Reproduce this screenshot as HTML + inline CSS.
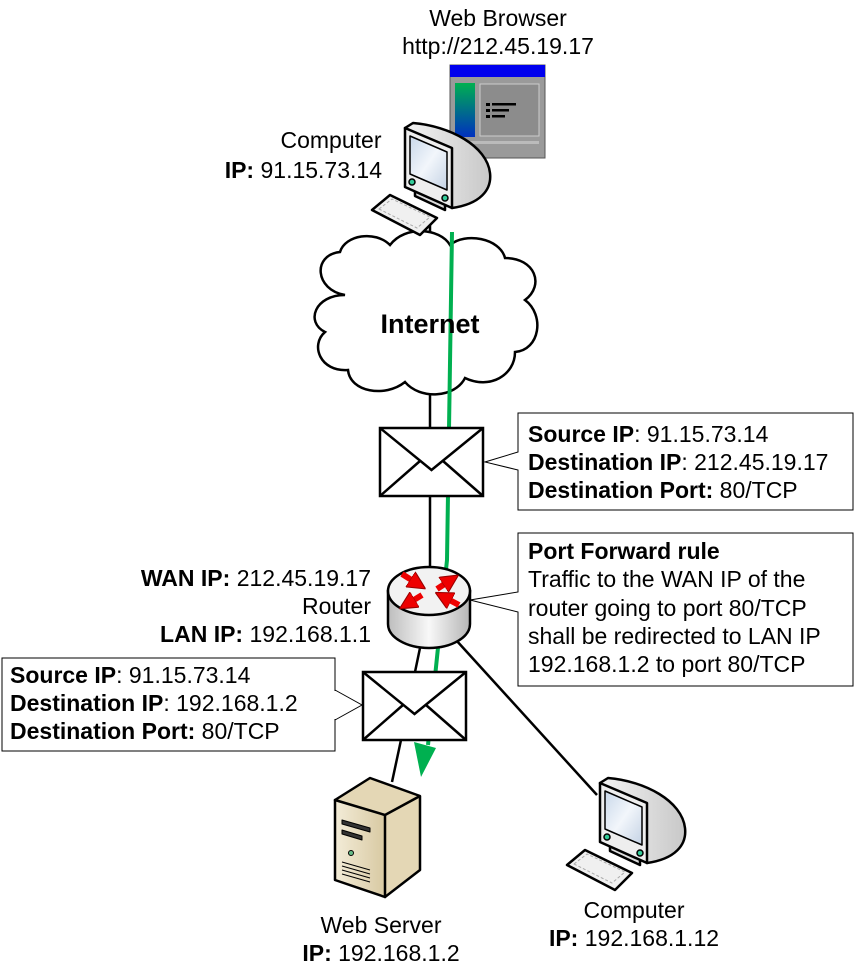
<!DOCTYPE html>
<html><head><meta charset="utf-8"><style>
body{margin:0;background:#fff}
svg{display:block}
text{font-family:"Liberation Sans",Arial,sans-serif;font-size:23px;fill:#000}
</style></head><body>
<svg width="855" height="970" viewBox="0 0 855 970" xmlns="http://www.w3.org/2000/svg">
<defs>
<linearGradient id="gs" x1="0" y1="0" x2="1" y2="1"><stop offset="0" stop-color="#c9d8ea"/><stop offset="0.5" stop-color="#f2f6fb"/><stop offset="1" stop-color="#c4d2e4"/></linearGradient>
<linearGradient id="gb" x1="0" y1="0" x2="1" y2="0"><stop offset="0" stop-color="#f4f4f4"/><stop offset="1" stop-color="#c8c8c8"/></linearGradient>
<linearGradient id="gg" x1="0" y1="0" x2="0" y2="1"><stop offset="0" stop-color="#00b050"/><stop offset="1" stop-color="#0030c0"/></linearGradient>
<linearGradient id="gr" x1="0" y1="0" x2="1" y2="0"><stop offset="0" stop-color="#bdbdbd"/><stop offset="0.5" stop-color="#f8f8f8"/><stop offset="1" stop-color="#b5b5b5"/></linearGradient>
<linearGradient id="gsv" x1="0" y1="0" x2="1" y2="0"><stop offset="0" stop-color="#f3ecd8"/><stop offset="1" stop-color="#d8c9a2"/></linearGradient>
<marker id="ah" viewBox="0 0 10 10" refX="7" refY="5" markerWidth="3" markerHeight="3" orient="auto"><path d="M0,0 L10,5 L0,10 Z" fill="#e00" stroke="#900" stroke-width="0.6"/></marker>
<g id="comp" stroke="#000" stroke-width="2.5" stroke-linejoin="round">
<path d="M0,0 L8,-5 C45,-2 82,18 85,45 C87,62 75,76 47,80 Z" fill="url(#gb)"/>
<path d="M10,60 L40,74 L40,82 L10,68 Z" fill="#ddd"/>
<path d="M0,0 L47,20 L47,80 L0,59 Z" fill="#eee"/>
<path d="M5,8 L42,24 L42,62 L5,46 Z" fill="url(#gs)" stroke-width="1.5"/>
<circle cx="7" cy="54" r="3" fill="#3c9" stroke-width="1.5"/>
<circle cx="40" cy="70" r="3" fill="#3c9" stroke-width="1.5"/>
<path d="M-33,82 L-15,67 L32,90 L15,107 Z" fill="#f0f0f0"/>
<path d="M-26,81 L-13,71 L25,89 L12,100 Z" fill="none" stroke="#aaa" stroke-width="1" stroke-dasharray="3,2"/>
</g>
<g id="env" stroke="#000" stroke-width="2.5" fill="#fff">
<rect x="0" y="0" width="103" height="68"/>
<polyline points="0,0 51.5,42 103,0" fill="none"/>
<line x1="0" y1="68" x2="40" y2="33"/>
<line x1="103" y1="68" x2="63" y2="33"/>
</g>
</defs>

<g stroke="#000" stroke-width="2.5" fill="none">
<line x1="430" y1="225" x2="430" y2="262"/>
<line x1="430" y1="390" x2="430" y2="430"/>
<line x1="430" y1="496" x2="430" y2="568"/>
<line x1="420" y1="648" x2="415" y2="672"/>
<line x1="401" y1="740" x2="392" y2="782"/>
<line x1="456" y1="640" x2="597" y2="795"/>
</g>

<path d="M345,295 C315,290 312,255 340,252 C345,235 375,230 390,245 C405,225 440,228 450,245 C465,232 500,238 505,258 C535,258 545,285 525,300 C545,315 540,350 515,352 C515,375 490,390 465,378 C455,398 420,400 405,382 C385,398 350,392 348,370 C320,372 310,345 325,332 C305,322 315,295 345,295 Z" fill="#fff" stroke="#000" stroke-width="2.5"/>

<polyline points="452,232 447,560 428,745" fill="none" stroke="#00b050" stroke-width="4"/>
<polygon points="414,742 436,748 421,777" fill="#00b050"/>

<text x="430" y="333" text-anchor="middle" style="font-weight:bold;font-size:27px">Internet</text>

<rect x="450" y="65" width="95" height="93" fill="#9a9a9a" stroke="#555" stroke-width="1"/>
<rect x="450" y="65" width="95" height="12" fill="#0000ee"/>
<rect x="455" y="83" width="20" height="54" fill="url(#gg)"/>
<rect x="480" y="84" width="59" height="52" fill="#8c8c8c" stroke="#ccc" stroke-width="1"/>
<rect x="455" y="141" width="84" height="3" fill="#bbb"/>
<g fill="#000"><rect x="486" y="103" width="4" height="3"/><rect x="486" y="109" width="4" height="3"/><rect x="486" y="115" width="4" height="3"/>
<rect x="492" y="103" width="24" height="2.5"/><rect x="492" y="109" width="17" height="2.5"/><rect x="492" y="115" width="13" height="2.5"/></g>

<use href="#comp" x="405" y="128"/>
<use href="#comp" x="600" y="783"/>

<use href="#env" x="380" y="428"/>
<use href="#env" x="363" y="672"/>

<g stroke="#000" stroke-width="2.5">
<path d="M388,591 L388,624 A41,24 0 0 0 470,624 L470,591 Z" fill="url(#gr)"/>
<ellipse cx="429" cy="591" rx="41" ry="24" fill="#f2f2f2"/>
</g>
<g stroke="#e00" stroke-width="6" fill="none" marker-end="url(#ah)">
<line x1="402" y1="574" x2="421" y2="586"/>
<line x1="437" y1="589" x2="454" y2="578"/>
<line x1="459" y1="605" x2="440" y2="595"/>
<line x1="422" y1="595" x2="404" y2="606"/>
</g>

<g stroke="#000" stroke-width="2.5" stroke-linejoin="round">
<path d="M335,800 L370,778 L420,796 L420,870 L385,897 Z" fill="#e4d7b5"/>
<path d="M335,800 L385,815 L385,897 L335,880 Z" fill="url(#gsv)"/>
<path d="M385,815 L420,796" fill="none"/>
<path d="M342,820 L370,828 L370,832 L342,824 Z" fill="#333" stroke-width="1"/>
<path d="M342,830 L362,836 L362,840 L342,834 Z" fill="#333" stroke-width="1"/>
<circle cx="351" cy="853" r="2.5" fill="#6b8" stroke-width="1"/>
<path d="M342,862 L370,870 M342,866 L370,874 M342,870 L370,878 M342,874 L370,882" stroke-width="1"/>
</g>

<g fill="#fff" stroke="#000" stroke-width="1">
<path d="M518,413 H853 V510 H518 V470 L485,462 L518,452 Z"/>
<path d="M518,533 H853 V686 H518 V612 L470,600 L518,592 Z"/>
<path d="M2,658 H335 V751 H2 Z"/>
</g>
<rect x="334" y="691" width="3" height="28" fill="#fff"/>
<polyline points="335,690 362,705 335,720" fill="none" stroke="#000" stroke-width="1"/>

<text x="498" y="26" text-anchor="middle">Web Browser</text>
<text x="498" y="54" text-anchor="middle">http://212.45.19.17</text>
<text x="331" y="148" text-anchor="middle">Computer</text>
<text x="382" y="178" text-anchor="end"><tspan font-weight="bold">IP:</tspan> 91.15.73.14</text>

<text x="528" y="442"><tspan font-weight="bold">Source IP</tspan>: 91.15.73.14</text>
<text x="528" y="470"><tspan font-weight="bold">Destination IP</tspan>: 212.45.19.17</text>
<text x="528" y="498"><tspan font-weight="bold">Destination Port:</tspan> 80/TCP</text>

<text x="528" y="559" font-weight="bold">Port Forward rule</text>
<text x="528" y="587">Traffic to the WAN IP of the</text>
<text x="528" y="616">router going to port 80/TCP</text>
<text x="528" y="644">shall be redirected to LAN IP</text>
<text x="528" y="672">192.168.1.2 to port 80/TCP</text>

<text x="371" y="586" text-anchor="end"><tspan font-weight="bold">WAN IP:</tspan> 212.45.19.17</text>
<text x="371" y="614" text-anchor="end">Router</text>
<text x="371" y="642" text-anchor="end"><tspan font-weight="bold">LAN IP:</tspan> 192.168.1.1</text>

<text x="10" y="683"><tspan font-weight="bold">Source IP</tspan>: 91.15.73.14</text>
<text x="10" y="711"><tspan font-weight="bold">Destination IP</tspan>: 192.168.1.2</text>
<text x="10" y="739"><tspan font-weight="bold">Destination Port:</tspan> 80/TCP</text>

<text x="381" y="933" text-anchor="middle">Web Server</text>
<text x="381" y="961" text-anchor="middle"><tspan font-weight="bold">IP:</tspan> 192.168.1.2</text>
<text x="634" y="918" text-anchor="middle">Computer</text>
<text x="634" y="946" text-anchor="middle"><tspan font-weight="bold">IP:</tspan> 192.168.1.12</text>
</svg>
</body></html>
